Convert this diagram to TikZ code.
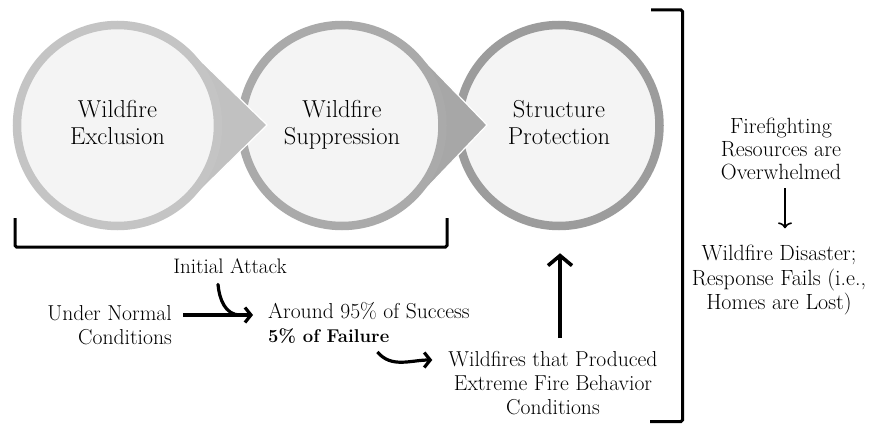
\documentclass[tikz,border=0pt]{standalone}
\usetikzlibrary{arrows.meta}
\definecolor{ringA}{HTML}{C4C4C4}
\definecolor{triA}{HTML}{C1C1C1}
\definecolor{ringB}{HTML}{AAAAAA}
\definecolor{triB}{HTML}{A7A7A7}
\definecolor{ringC}{HTML}{9C9C9C}
\definecolor{disc}{HTML}{F4F4F4}
\begin{document}
\begin{tikzpicture}[x=1pt,y=1pt,
  disk/.style={circle, minimum size=201pt, inner sep=0pt, line width=8.5pt, fill=disc, align=center, font=\fontsize{24.5}{27}\selectfont},
  txt/.style={inner sep=0pt, font=\fontsize{21.6}{24}\selectfont},
  rtxt/.style={inner sep=0pt, align=center, font=\fontsize{22}{23}\selectfont},
  brk/.style={line width=3pt, rounded corners=1.5pt},
  harrow/.style={line width=3.2pt, -{Straight Barb[length=6pt,width=15pt]}},
  varrow/.style={line width=3.6pt, -{Straight Barb[length=10pt,width=24pt]}},
  tharrow/.style={line width=1.6pt, -{To[length=6pt,width=14pt]}},
  tri/.style={draw=white, line width=1.2pt, line join=miter}
]
\fill[white] (0,0) rectangle (873,424);
\useasboundingbox (0,0) rectangle (873,424);

% circles with pointers (drawn back to front)
\node[disk, draw=ringC] (c3) at (559,298.5) {\strut Structure\\\strut Protection};
\path[tri, fill=triB] (487,299) -- (417.3,370.9) -- (417.3,226.1) -- cycle;
\node[disk, draw=ringB] (c2) at (342,298.5) {\strut Wildfire\\\strut Suppression};
\path[tri, fill=triA] (267,299) -- (190.5,373.2) -- (190.5,223.8) -- cycle;
\node[disk, draw=ringA] (c1) at (117.5,298.5) {\strut Wildfire\\\strut Exclusion};

% brackets
\draw[brk] (15,206) -- (15,177) -- (447,177) -- (447,206);
\draw[brk] (651,414) -- (682.5,414) -- (682.5,2.5) -- (650,2.5);

% texts
\node[txt, font=\fontsize{21}{23}\selectfont] (ia) at (230,155.3) {\strut Initial Attack};
\node[txt, align=right, anchor=east] (unc) at (172,96) {\strut Under Normal\\\strut Conditions};
\node[txt, anchor=base west] (s95) at (268,106) {Around 95\% of Success};
\node[txt, anchor=base west, font=\fontsize{18.5}{24}\selectfont\bfseries] (f5) at (268,82) {5\% of Failure};
\node[txt, align=center] (wf) at (553,38.8) {\strut Wildfires that Produced\\\strut Extreme Fire Behavior\\\strut Conditions};
\node[rtxt] (ffr) at (781,272.6) {\strut Firefighting\\\strut Resources are\\\strut Overwhelmed};
\node[rtxt] (wdr) at (779,143.6) {\strut Wildfire Disaster;\\\strut Response Fails (i.e.,\\\strut Homes are Lost)};

% connectors
\coordinate (j1) at (240,109);
\draw[harrow] ([xshift=11pt,yshift=13pt]unc.east) -- ([xshift=-15pt,yshift=3pt]s95.base west);
\draw[line width=3.2pt, line cap=round] ([xshift=-12pt,yshift=-4pt]ia.south) to[out=-85,in=180] (j1);
\draw[harrow] ([xshift=-12pt,yshift=-10pt]f5.base east) to[out=-50,in=180] ([xshift=-16pt,yshift=-11pt]wf.north west);
\draw[varrow] ([xshift=7pt,yshift=11pt]wf.north) -- ([xshift=1pt,yshift=-23pt]c3.south);
\draw[tharrow] ([xshift=4pt,yshift=-2pt]ffr.south) -- ([xshift=6pt,yshift=16pt]wdr.north);
\end{tikzpicture}
\end{document}
